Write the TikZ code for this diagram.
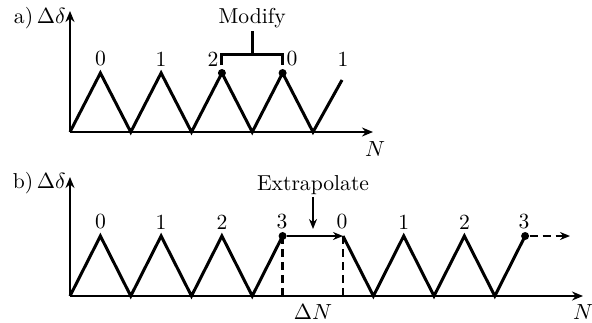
\documentclass[tikz,border=0pt]{standalone}
\usetikzlibrary{arrows.meta}
\begin{document}
\begin{tikzpicture}[x=0.5pt,y=-0.5pt,font=\fontsize{10.8}{13}\selectfont,
  ax/.style={-{Stealth[length=5.5pt,width=4.5pt]},line width=1.4pt},
  wave/.style={line width=1.5pt,line join=miter},
  lab/.style={inner sep=0pt},
  dot/.style={circle,fill,inner sep=0pt,minimum size=4pt},
  dsh/.style={line width=1.4pt,dash pattern=on 4pt off 2.5pt},
  arr/.style={-{Stealth[length=5pt,width=4pt]},line width=1.4pt}]
\useasboundingbox (0,0) rectangle (592,322);
% ---------- panel a ----------
\coordinate (aO) at (70,132);
\coordinate (aY) at (70,11);
\coordinate (aX) at (373,132);
\coordinate (a1) at (100.4,73);
\coordinate (a2) at (130.75,132);
\coordinate (a3) at (161.1,73);
\coordinate (a4) at (191.5,132);
\coordinate (a5) at (221.9,73);
\coordinate (a6) at (252.25,132);
\coordinate (a7) at (282.6,73);
\coordinate (a8) at (313,132);
\coordinate (a9) at (342,80);
\draw[ax] (aO) -- (aY);
\draw[ax] (aO) -- (aX);
\draw[wave] (aO) -- (a1) -- (a2) -- (a3) -- (a4) -- (a5) -- (a6) -- (a7) -- (a8) -- (a9);
\node[dot] (ad1) at (a5) {};
\node[dot] (ad2) at (a7) {};
\node[anchor=east,lab] (alab) at (66,18) {a)\,$\Delta\delta$};
\node[lab] (aN) at (375,149) {$N$};
\node[lab] (al0) at (100.4,59) {0};
\node[lab] (al1) at (161.1,59) {1};
\node[lab] (al2) at (213,59) {2};
\node[lab] (al3) at (292,59) {0};
\node[lab] (al4) at (343,59) {1};
\coordinate (bk1) at (221.9,65);
\coordinate (bk2) at (221.9,54);
\coordinate (bk3) at (282.6,54);
\coordinate (bk4) at (282.6,65);
\coordinate (bkm) at (252.25,54);
\coordinate (bkt) at (252.25,31);
\node[lab] (mod) at (252.25,18) {Modify};
\draw[line width=1.5pt] (bk1) -- (bk2) -- (bk3) -- (bk4);
\draw[line width=1.5pt] (bkm) -- (bkt);
% ---------- panel b ----------
\coordinate (bO) at (70,296);
\coordinate (bY) at (70,177);
\coordinate (bX) at (583,296);
\coordinate (b1) at (100.4,236);
\coordinate (b2) at (130.75,296);
\coordinate (b3) at (161.1,236);
\coordinate (b4) at (191.5,296);
\coordinate (b5) at (221.9,236);
\coordinate (b6) at (252.25,296);
\coordinate (b7) at (282.6,236);
\coordinate (b7d) at (282.6,296);
\coordinate (c0) at (343,236);
\coordinate (c0d) at (343,296);
\coordinate (c1) at (373.4,296);
\coordinate (c2) at (403.7,236);
\coordinate (c3) at (434,296);
\coordinate (c4) at (464.4,236);
\coordinate (c5) at (494.8,296);
\coordinate (c6) at (525.1,236);
\coordinate (cend) at (570,236);
\draw[ax] (bO) -- (bY);
\draw[ax] (bO) -- (bX);
\draw[wave] (bO) -- (b1) -- (b2) -- (b3) -- (b4) -- (b5) -- (b6) -- (b7);
\draw[wave] (c0) -- (c1) -- (c2) -- (c3) -- (c4) -- (c5) -- (c6);
\node[dot] (bd1) at (b7) {};
\node[dot] (bd2) at (c6) {};
\draw[arr] (bd1) -- (c0);
\draw[dsh] (b7) -- (b7d);
\draw[dsh] (c0) -- (c0d);
\draw[dsh,-{Stealth[length=5pt,width=4pt]}] (bd2) -- (cend);
\node[anchor=east,lab] (blab) at (66,183) {b)\,$\Delta\delta$};
\node[lab] (bN) at (583,312) {$N$};
\node[lab] (dN) at (313,312) {$\Delta N$};
\node[lab] (bl0) at (100.4,222) {0};
\node[lab] (bl1) at (161.1,222) {1};
\node[lab] (bl2) at (221.9,222) {2};
\node[lab] (bl3) at (282,222) {3};
\node[lab] (bl4) at (342,222) {0};
\node[lab] (bl5) at (403.7,222) {1};
\node[lab] (bl6) at (464.4,222) {2};
\node[lab] (bl7) at (524,222) {3};
\node[lab] (ext) at (313,185) {Extrapolate};
\coordinate (extT) at (313,197);
\coordinate (extA) at (313,229);
\draw[arr] (extT) -- (extA);
\end{tikzpicture}
\end{document}
